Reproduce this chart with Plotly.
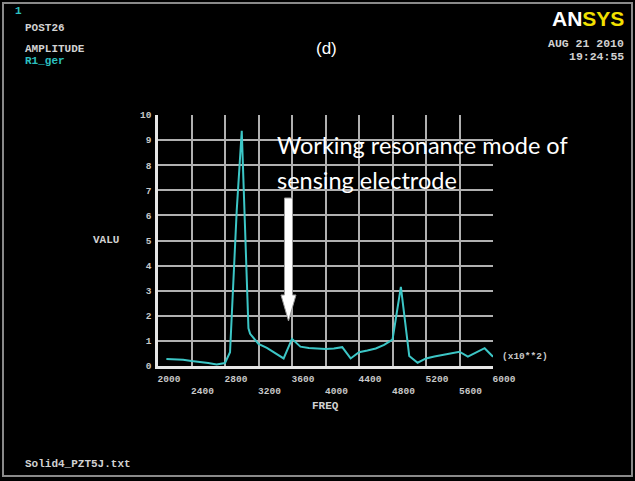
import plotly.graph_objects as go

freq = [2100, 2200, 2300, 2400, 2500, 2600, 2700, 2800, 2860, 2940, 3000, 3080, 3100,
        3200, 3300, 3400, 3500, 3600, 3700, 3800, 3900, 4000, 4100, 4200, 4300, 4400,
        4500, 4600, 4700, 4800, 4900, 5000, 5100, 5200, 5300, 5400, 5500, 5600, 5700,
        5800, 5900, 6000]
valu = [0.28, 0.27, 0.25, 0.2, 0.17, 0.12, 0.06, 0.12, 0.55, 6.2, 9.37, 1.5, 1.28,
        0.88, 0.72, 0.52, 0.3, 1.08, 0.77, 0.72, 0.7, 0.68, 0.7, 0.75, 0.3, 0.55,
        0.62, 0.7, 0.84, 1.05, 3.15, 0.4, 0.13, 0.3, 0.38, 0.44, 0.5, 0.57, 0.37,
        0.55, 0.71, 0.37]

xticks_row1 = [2000, 2800, 3600, 4400, 5200, 6000]
xticks_row2 = [2400, 3200, 4000, 4800, 5600]
xgrid = [2000, 2400, 2800, 3200, 3600, 4000, 4400, 4800, 5200, 5600, 6000]
yticks = list(range(0, 11))

W, H = 635, 481
L, R, T, B = 158, 142, 115, 115
PW, PH = W - L - R, H - T - B

def px(x):
    return (x - L) / PW

def py(y):
    return (H - B - y) / PH

mono = "Liberation Mono"
tickfont = dict(family=mono, size=9.5, color="#c8c8c8", weight="bold")

fig = go.Figure()
fig.add_trace(go.Scatter(x=freq, y=valu, mode="lines",
                         line=dict(color="#3cc6c6", width=2), showlegend=False))
fig.add_trace(go.Scatter(x=[2000, 6000], y=[None, None], xaxis="x2", showlegend=False,
                         hoverinfo="skip"))

fig.update_layout(
    width=W, height=H,
    margin=dict(l=L, r=R, t=T, b=B),
    paper_bgcolor="black", plot_bgcolor="black",
    xaxis=dict(range=[2000, 6000], tickvals=xgrid,
               ticktext=[str(v) if v in xticks_row1 else "" for v in xgrid],
               showgrid=True, gridcolor="#b0b0b0", gridwidth=1.5,
               showline=True, linecolor="#e6e6e6", linewidth=2.5,
               zeroline=False, ticks="", tickfont=tickfont,
               ticklabelshift=11, ticklabelstandoff=2),
    xaxis2=dict(range=[2000, 6000], overlaying="x", matches="x", anchor="y", side="bottom",
                tickvals=xticks_row2, ticktext=[str(v) for v in xticks_row2],
                showgrid=False, showline=False, zeroline=False, ticks="",
                tickfont=tickfont, ticklabelshift=11, ticklabelstandoff=17),
    yaxis=dict(range=[0, 10], tickvals=yticks, showgrid=True, gridcolor="#b0b0b0",
               gridwidth=1.5, showline=True, linecolor="#e6e6e6", linewidth=2.5,
               zeroline=False, ticks="", tickfont=tickfont, ticklabelstandoff=2),
)

small = dict(family=mono, size=11, color="#d2d2d2", weight="bold")
cyan = dict(family=mono, size=11, color="#2cc0c0", weight="bold")

def ann(text, x, y, font, xanchor="left", yanchor="middle"):
    fig.add_annotation(text=text, x=px(x), y=py(y), xref="paper", yref="paper",
                       showarrow=False, font=font, xanchor=xanchor, yanchor=yanchor)

ann("1", 13, 11, cyan)
ann("POST26", 23, 28, small)
ann("AMPLITUDE", 23, 49, small)
ann("R1_ger", 23, 61, cyan)
ann("AUG 21 2010", 626, 43, dict(family=mono, size=11.5, color="#d2d2d2", weight="bold"), xanchor="right")
ann("19:24:55", 626, 56, dict(family=mono, size=11.5, color="#d2d2d2", weight="bold"), xanchor="right")
ann("Solid4_PZT5J.txt", 23, 464, small)
ann("VALU", 91, 240, small)
ann("FREQ", 325, 406, small, xanchor="center")
ann("(x10**2)", 500, 356, dict(family=mono, size=9.5, color="#c8c8c8", weight="bold"))
ann("(d)", 326, 48, dict(family="Liberation Sans", size=17, color="white"), xanchor="center")
ann("<b>AN</b><b><span style='color:#f2e000'>SYS</span></b>", 626, 19,
    dict(family="Liberation Sans", size=21, color="white"), xanchor="right")
ann("Working resonance mode of", 275, 145, dict(family="Lato", size=23.5, color="white"))
ann("sensing electrode", 275, 180, dict(family="Lato", size=23.5, color="white"))

def P(x, y):
    return f"{px(x):.5f},{py(y):.5f}"

arrow = ("M " + P(284.5, 198) + " L " + P(292.5, 198) + " L " + P(292.5, 295) +
         " L " + P(296, 295) + " L " + P(288.5, 321) + " L " + P(281, 295) +
         " L " + P(284.5, 295) + " Z")
fig.add_shape(type="path", path=arrow, xref="paper", yref="paper",
              fillcolor="white", line=dict(color="#9a9a9a", width=1))

fig.add_shape(type="rect", x0=px(3), y0=py(3), x1=px(632), y1=py(476), xref="paper",
              yref="paper", line=dict(color="#8a8a8a", width=2))

fig.write_html("out.html", config={"displayModeBar": False},
               post_script="document.body.style.margin='0';document.body.style.background='black';")
